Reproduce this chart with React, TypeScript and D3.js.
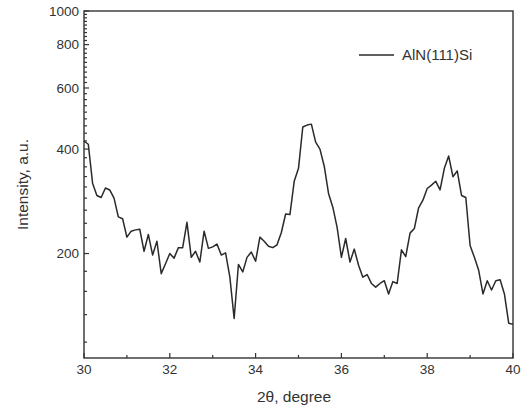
import { useEffect, useRef } from "react";
import * as d3 from "d3";

// 2theta scan sampled every 0.1 degree from 30 to 40
const TWO_THETA_START = 30;
const TWO_THETA_STEP = 0.1;

const INTENSITY = [
  422, 413, 319, 294, 290, 309, 305, 289, 255, 252,
  223, 232, 234, 235, 203, 227, 198, 217, 175, 187,
  200, 194, 208, 208, 246, 195, 203, 189, 232, 207,
  209, 213, 198, 201, 171, 130, 186, 177, 195, 202,
  190, 223, 217, 210, 208, 212, 230, 260, 259, 323,
  352, 463, 469, 472, 419, 400, 357, 298, 272, 238,
  195, 221, 189, 206, 185, 171, 174, 164, 160, 164,
  167, 153, 166, 164, 205, 196, 229, 236, 271, 285,
  308, 315, 323, 305, 352, 382, 333, 346, 294, 290,
  211, 195, 179, 153, 167, 157, 167, 168, 153, 126,
  125,
];

const X_TICKS = [30, 32, 34, 36, 38, 40];
const X_MINOR_TICKS = [31, 33, 35, 37, 39];
const Y_TICKS = [200, 400, 600, 800, 1000];
const SERIES_LABEL = "AlN(111)Si";

export default function App() {
  const svgRef = useRef<SVGSVGElement>(null);

  useEffect(() => {
    if (!svgRef.current) return;
    const width = 523;
    const height = 409;
    const margin = { top: 11, right: 10, bottom: 51, left: 84 };
    const innerWidth = width - margin.left - margin.right;
    const innerHeight = height - margin.top - margin.bottom;
    const ink = "#333";
    const font = "'Liberation Sans', Arial, sans-serif";

    const svg = d3.select(svgRef.current);
    svg.selectAll("*").remove();

    const g = svg
      .append("g")
      .attr("transform", `translate(${margin.left},${margin.top})`);

    const x = d3.scaleLinear().domain([30, 40]).range([0, innerWidth]);
    const y = d3.scaleLog().domain([100, 1000]).range([innerHeight, 0]);

    // Origin-style minor ticks: 8 linear subdivisions per 200 step
    const yMinor: number[] = [];
    Y_TICKS.forEach((t) => {
      for (let k = 1; k <= 8; k++) {
        const v = t - (k * 200) / 9;
        if (v >= 100) yMinor.push(v);
      }
    });

    // frame
    g.append("rect")
      .attr("width", innerWidth)
      .attr("height", innerHeight)
      .attr("fill", "none")
      .attr("stroke", ink)
      .attr("stroke-width", 1.4);

    // y ticks (inward)
    yMinor.forEach((v) => {
      g.append("line")
        .attr("x1", 0)
        .attr("x2", 3)
        .attr("y1", y(v))
        .attr("y2", y(v))
        .attr("stroke", ink)
        .attr("stroke-width", 1.2);
    });
    Y_TICKS.forEach((v) => {
      g.append("line")
        .attr("x1", 0)
        .attr("x2", 5)
        .attr("y1", y(v))
        .attr("y2", y(v))
        .attr("stroke", ink)
        .attr("stroke-width", 1.2);
      g.append("text")
        .attr("x", -5)
        .attr("y", y(v))
        .attr("dy", "0.35em")
        .attr("text-anchor", "end")
        .attr("font-family", font)
        .attr("font-size", 13.5)
        .attr("fill", ink)
        .text(v);
    });

    // x ticks (inward)
    X_MINOR_TICKS.forEach((v) => {
      g.append("line")
        .attr("x1", x(v))
        .attr("x2", x(v))
        .attr("y1", innerHeight)
        .attr("y2", innerHeight - 3)
        .attr("stroke", ink)
        .attr("stroke-width", 1.2);
    });
    X_TICKS.forEach((v) => {
      g.append("line")
        .attr("x1", x(v))
        .attr("x2", x(v))
        .attr("y1", innerHeight)
        .attr("y2", innerHeight - 5)
        .attr("stroke", ink)
        .attr("stroke-width", 1.2);
      g.append("text")
        .attr("x", x(v))
        .attr("y", innerHeight + 16)
        .attr("text-anchor", "middle")
        .attr("font-family", font)
        .attr("font-size", 13.5)
        .attr("fill", ink)
        .text(v);
    });

    // axis titles
    svg
      .append("text")
      .attr("x", 294)
      .attr("y", 402)
      .attr("text-anchor", "middle")
      .attr("font-family", font)
      .attr("font-size", 15.5)
      .attr("fill", ink)
      .text("2\u03B8, degree");

    svg
      .append("text")
      .attr("transform", `translate(28,${margin.top + innerHeight / 2}) rotate(-90)`)
      .attr("text-anchor", "middle")
      .attr("font-family", font)
      .attr("font-size", 15.5)
      .attr("fill", ink)
      .text("Intensity, a.u.");

    // data line
    const line = d3
      .line<number>()
      .x((_, i) => x(TWO_THETA_START + i * TWO_THETA_STEP))
      .y((d) => y(d));

    g.append("path")
      .datum(INTENSITY)
      .attr("d", line)
      .attr("fill", "none")
      .attr("stroke", "#2a2a2a")
      .attr("stroke-width", 1.5)
      .attr("stroke-linejoin", "round");

    // legend
    const legend = svg.append("g").attr("transform", "translate(359,55)");
    legend
      .append("line")
      .attr("x1", 0)
      .attr("x2", 35)
      .attr("y1", 0)
      .attr("y2", 0)
      .attr("stroke", "#2a2a2a")
      .attr("stroke-width", 1.5);
    legend
      .append("text")
      .attr("x", 43)
      .attr("y", 0)
      .attr("dy", "0.35em")
      .attr("font-family", font)
      .attr("font-size", 15)
      .attr("fill", ink)
      .text(SERIES_LABEL);
  }, []);

  return (
    <svg
      ref={svgRef}
      width={523}
      height={409}
      style={{ position: "absolute", left: 0, top: 0, background: "#fff" }}
    />
  );
}
